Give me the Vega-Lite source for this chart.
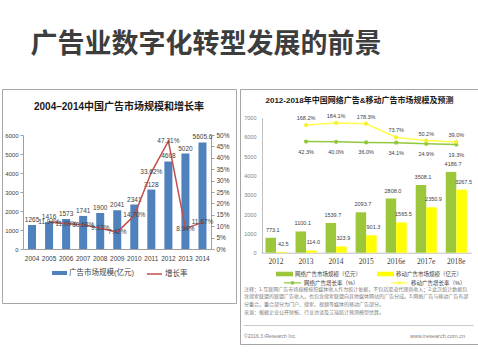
{
  "$schema": "https://vega.github.io/schema/vega-lite/v6.json",
  "padding": {"left": 1, "top": 30, "right": 0, "bottom": 0},
  "background": "white",
  "title": {"text": "广告业数字化转型发展的前景", "anchor": "start", "dx": 29, "fontSize": 27, "fontWeight": "bold", "color": "#3d3d3d", "font": "Noto Sans CJK SC", "baseline": "bottom", "offset": 3},
  "spacing": 2,
  "resolve": {"legend": {"fill": "independent", "stroke": "independent", "color": "independent"}, "scale": {"fill": "independent", "stroke": "independent", "color": "independent"}},
  "datasets": {
    "left": [
      {"year": "2004", "size": 1265, "rate": null},
      {"year": "2005", "size": 1416, "rate": 0.1194},
      {"year": "2006", "size": 1573, "rate": 0.1109},
      {"year": "2007", "size": 1741, "rate": 0.1068},
      {"year": "2008", "size": 1900, "rate": 0.0913},
      {"year": "2009", "size": 2041, "rate": 0.0742},
      {"year": "2010", "size": 2341, "rate": 0.1470},
      {"year": "2011", "size": 3128, "rate": 0.3362},
      {"year": "2012", "size": 4608, "rate": 0.4731},
      {"year": "2013", "size": 5020, "rate": 0.0894},
      {"year": "2014", "size": 5605.6, "rate": 0.1167}
    ],
    "right": [
      {"year": "2012", "bar": "网络广告市场规模（亿元）", "line": "网络广告增长率（%）", "value": 773.1, "rate": null},
      {"year": "2012", "bar": "移动广告市场规模（亿元）", "line": "移动广告增长率（%）", "value": 42.5, "rate": null},
      {"year": "2013", "bar": "网络广告市场规模（亿元）", "line": "网络广告增长率（%）", "value": 1100.1, "rate": 0.423},
      {"year": "2013", "bar": "移动广告市场规模（亿元）", "line": "移动广告增长率（%）", "value": 114.0, "rate": 1.682},
      {"year": "2014", "bar": "网络广告市场规模（亿元）", "line": "网络广告增长率（%）", "value": 1539.7, "rate": 0.400},
      {"year": "2014", "bar": "移动广告市场规模（亿元）", "line": "移动广告增长率（%）", "value": 323.9, "rate": 1.841},
      {"year": "2015", "bar": "网络广告市场规模（亿元）", "line": "网络广告增长率（%）", "value": 2093.7, "rate": 0.360},
      {"year": "2015", "bar": "移动广告市场规模（亿元）", "line": "移动广告增长率（%）", "value": 901.3, "rate": 1.783},
      {"year": "2016e", "bar": "网络广告市场规模（亿元）", "line": "网络广告增长率（%）", "value": 2808.0, "rate": 0.341},
      {"year": "2016e", "bar": "移动广告市场规模（亿元）", "line": "移动广告增长率（%）", "value": 1565.5, "rate": 0.737},
      {"year": "2017e", "bar": "网络广告市场规模（亿元）", "line": "网络广告增长率（%）", "value": 3508.1, "rate": 0.249},
      {"year": "2017e", "bar": "移动广告市场规模（亿元）", "line": "移动广告增长率（%）", "value": 2350.9, "rate": 0.502},
      {"year": "2018e", "bar": "网络广告市场规模（亿元）", "line": "网络广告增长率（%）", "value": 4186.7, "rate": 0.193},
      {"year": "2018e", "bar": "移动广告市场规模（亿元）", "line": "移动广告增长率（%）", "value": 3267.5, "rate": 0.390}
    ],
    "notes": [
      {"side": "left", "line": 1, "text": "注释：1.互联网广告市场规模按照媒体收入作为统计依据，不包括渠道代理商收入；2.此次统计数据包"},
      {"side": "left", "line": 2, "text": "含搜索联盟的联盟广告收入，也包含搜索联盟向其他媒体网站的广告分成。3.网络广告与移动广告有部"},
      {"side": "left", "line": 3, "text": "分重合，重合部分为门户、搜索、视频等媒体的移动广告部分。"},
      {"side": "left", "line": 4, "text": "来源：根据企业公开财报、行业访谈及艾瑞统计预测模型估算。"},
      {"side": "left", "line": 7, "text": "©2016.3 iResearch Inc."},
      {"side": "right", "line": 7, "text": "www.iresearch.com.cn"}
    ]
  },
  "hconcat": [
    {
      "width": 234,
      "height": 214,
      "view": {"stroke": "#a6a6a6", "fill": "white"},
      "title": {"text": "2004–2014中国广告市场规模和增长率", "frame": "group", "anchor": "middle", "offset": -28, "baseline": "middle", "fontSize": 10, "fontWeight": "bold", "color": "#1a1a1a"},
      "data": {"name": "left"},
      "encoding": {
        "x": {"field": "year", "type": "ordinal", "scale": {"range": [21.5, 209], "paddingInner": 0.53, "paddingOuter": 0.265},
          "axis": {"orient": "bottom", "offset": -54, "title": null, "labelAngle": 0, "labelFontSize": 6.5, "labelColor": "#404040", "ticks": false, "labelPadding": 6, "domainColor": "#a0a0a0"}}
      },
      "layer": [
        {
          "encoding": {
            "y": {"field": "size", "type": "quantitative", "scale": {"domain": [0, 6000], "range": [160, 46], "nice": false},
              "axis": {"orient": "left", "offset": -21, "values": [0, 1000, 2000, 3000, 4000, 5000, 6000], "format": "d", "title": null, "grid": false, "labelFontSize": 6, "labelColor": "#404040", "tickSize": 3, "tickColor": "#a0a0a0", "domainColor": "#a0a0a0", "labelPadding": 2}}
          },
          "layer": [
            {"mark": {"type": "bar"},
             "encoding": {"fill": {"datum": "广告市场规模(亿元)", "type": "nominal", "scale": {"range": ["#4f81bd"]},
               "legend": {"orient": "none", "legendX": 50, "legendY": 176.5, "title": null, "direction": "horizontal", "symbolType": "M-1,-0.27H1V0.27H-1Z", "symbolSize": 225, "labelFontSize": 7.5, "labelColor": "#404040", "labelOffset": 2, "symbolStrokeWidth": 0}}}},
            {"mark": {"type": "text", "baseline": "bottom", "dy": -2, "fontSize": 6.5, "color": "#404040"},
             "encoding": {"text": {"field": "size", "type": "nominal"}}}
          ]
        },
        {
          "encoding": {
            "y": {"field": "rate", "type": "quantitative", "scale": {"domain": [0, 0.5], "range": [160, 46], "nice": false},
              "axis": {"orient": "right", "offset": -25, "values": [0, 0.05, 0.1, 0.15, 0.2, 0.25, 0.3, 0.35, 0.4, 0.45, 0.5], "format": ".0%", "title": null, "grid": false, "labelFontSize": 6.5, "labelColor": "#404040", "tickSize": 3, "tickColor": "#a0a0a0", "domainColor": "#a0a0a0", "labelPadding": 2}}
          },
          "layer": [
            {"mark": {"type": "line", "strokeWidth": 1.5},
             "encoding": {"stroke": {"datum": "增长率", "type": "nominal", "scale": {"range": ["#c0504d"]},
               "legend": {"orient": "none", "legendX": 144, "legendY": 176.5, "title": null, "direction": "horizontal", "symbolType": "stroke", "symbolSize": 225, "symbolStrokeWidth": 1.5, "labelFontSize": 7.5, "labelColor": "#404040", "labelOffset": 2}}}},
            {"mark": {"type": "text", "baseline": "middle", "fontSize": 6.5, "color": "#404040"},
             "encoding": {"text": {"field": "rate", "type": "quantitative", "format": ".2%"}}}
          ]
        }
      ],
      "resolve": {"scale": {"y": "independent", "fill": "independent", "stroke": "independent"}, "legend": {"fill": "independent", "stroke": "independent"}}
    },
    {
      "width": 239,
      "height": 255,
      "view": {"stroke": "#a6a6a6", "fill": "white"},
      "title": {"text": "2012-2018年中国网络广告&移动广告市场规模及预测", "frame": "group", "anchor": "middle", "offset": -20, "baseline": "middle", "fontSize": 8, "fontWeight": "bold", "color": "#1a1a1a"},
      "layer": [
        {
          "data": {"name": "right"},
          "encoding": {
            "x": {"field": "year", "type": "ordinal", "scale": {"range": [21, 231.3], "paddingInner": 0.3, "paddingOuter": 0.15},
              "axis": {"orient": "bottom", "offset": -91.3, "title": null, "labelAngle": 0, "labelFont": "Liberation Serif", "labelFontSize": 7.5, "labelColor": "#404040", "ticks": false, "labelPadding": 5, "domainColor": "#bfbfbf"}}
          },
          "layer": [
            {
              "encoding": {
                "xOffset": {"field": "bar", "type": "nominal", "scale": {"domain": ["网络广告市场规模（亿元）", "移动广告市场规模（亿元）"], "paddingInner": 0, "paddingOuter": 0}},
                "y": {"field": "value", "type": "quantitative", "scale": {"domain": [0, 7000], "range": [163.7, 28.6], "nice": false},
                  "axis": {"orient": "left", "offset": -22, "values": [0, 1000, 2000, 3000, 4000, 5000, 6000, 7000], "format": "d", "title": null, "grid": false, "labelFontSize": 5.5, "labelColor": "#7f7f7f", "ticks": false, "domainColor": "#bfbfbf", "labelPadding": 6}}
              },
              "layer": [
                {"mark": {"type": "bar"},
                 "encoding": {"fill": {"field": "bar", "type": "nominal", "scale": {"domain": ["网络广告市场规模（亿元）", "移动广告市场规模（亿元）"], "range": ["#9dc73b", "#ffff00"]},
                   "legend": {"orient": "none", "legendX": 36, "legendY": 176.5, "title": null, "direction": "horizontal", "columns": 2, "columnPadding": 15, "symbolType": "M-1,-0.27H1V0.27H-1Z", "symbolSize": 289, "symbolStrokeWidth": 0, "labelFontSize": 5.5, "labelColor": "#404040", "labelOffset": 2}}}},
                {"mark": {"type": "text", "baseline": "bottom", "dy": -5, "dx": 2, "fontSize": 5.5, "color": "#404040"},
                 "encoding": {"text": {"field": "value", "type": "quantitative", "format": ".1f"}}}
              ]
            },
            {
              "encoding": {
                "y": {"field": "rate", "type": "quantitative", "scale": {"domain": [0, 2], "range": [58.1, 31.9], "nice": false, "zero": false}, "axis": null}
              },
              "layer": [
                {"mark": {"type": "line", "strokeWidth": 1.5},
                 "encoding": {"stroke": {"field": "line", "type": "nominal", "scale": {"domain": ["网络广告增长率（%）", "移动广告增长率（%）"], "range": ["#92c83e", "#ffff4d"]},
                   "legend": {"orient": "none", "legendX": 43, "legendY": 184, "title": null, "direction": "horizontal", "columns": 2, "columnPadding": 29, "symbolType": "M-1,0H1M-0.15,0A0.15,0.15,0,1,1,0.15,0A0.15,0.15,0,1,1,-0.15,0", "symbolSize": 289, "symbolStrokeWidth": 1.3, "labelFontSize": 5.5, "labelColor": "#404040", "labelOffset": 2}}}},
                {"mark": {"type": "point", "filled": true, "size": 18, "opacity": 1},
                 "encoding": {"color": {"field": "line", "type": "nominal", "scale": {"domain": ["网络广告增长率（%）", "移动广告增长率（%）"], "range": ["#92c83e", "#f2f230"]}, "legend": null}}},
                {"transform": [{"filter": "datum.line === '移动广告增长率（%）'"}],
                 "mark": {"type": "text", "baseline": "middle", "dy": -7, "fontSize": 5.5, "color": "#404040"},
                 "encoding": {"text": {"field": "rate", "type": "quantitative", "format": ".1%"}}},
                {"transform": [{"filter": "datum.line === '网络广告增长率（%）'"}],
                 "mark": {"type": "text", "baseline": "middle", "dy": 10, "fontSize": 5.5, "color": "#404040"},
                 "encoding": {"text": {"field": "rate", "type": "quantitative", "format": ".1%"}}}
              ]
            }
          ],
          "resolve": {"scale": {"y": "independent"}}
        },
        {
          "data": {"name": "notes"},
          "encoding": {
            "x": {"field": "side", "type": "nominal", "scale": {"type": "point", "domain": ["left", "right"], "range": [3, 233], "padding": 0},
              "axis": {"orient": "bottom", "offset": -19, "labels": false, "ticks": false, "title": null, "grid": false, "domainColor": "#c8c8c8"}},
            "y": {"field": "line", "type": "quantitative", "scale": {"domain": [1, 7], "range": [199.5, 247], "zero": false, "nice": false}, "axis": null}
          },
          "layer": [
            {"transform": [{"filter": "datum.side === 'left'"}],
             "mark": {"type": "text", "align": "left", "baseline": "middle", "dx": 1, "fontSize": 5, "color": "#808080", "limit": 0},
             "encoding": {"text": {"field": "text", "type": "nominal"}}},
            {"transform": [{"filter": "datum.side === 'right'"}],
             "mark": {"type": "text", "align": "right", "baseline": "middle", "dx": -8, "fontSize": 5.5, "color": "#808080"},
             "encoding": {"text": {"field": "text", "type": "nominal"}}}
          ]
        }
      ],
      "resolve": {"scale": {"x": "independent", "y": "independent"}, "legend": {"fill": "independent", "stroke": "independent"}}
    }
  ],
  "config": {
    "font": "Liberation Sans, Noto Sans CJK SC",
    "axis": {"grid": false},
    "view": {"stroke": "#a6a6a6"}
  }
}
